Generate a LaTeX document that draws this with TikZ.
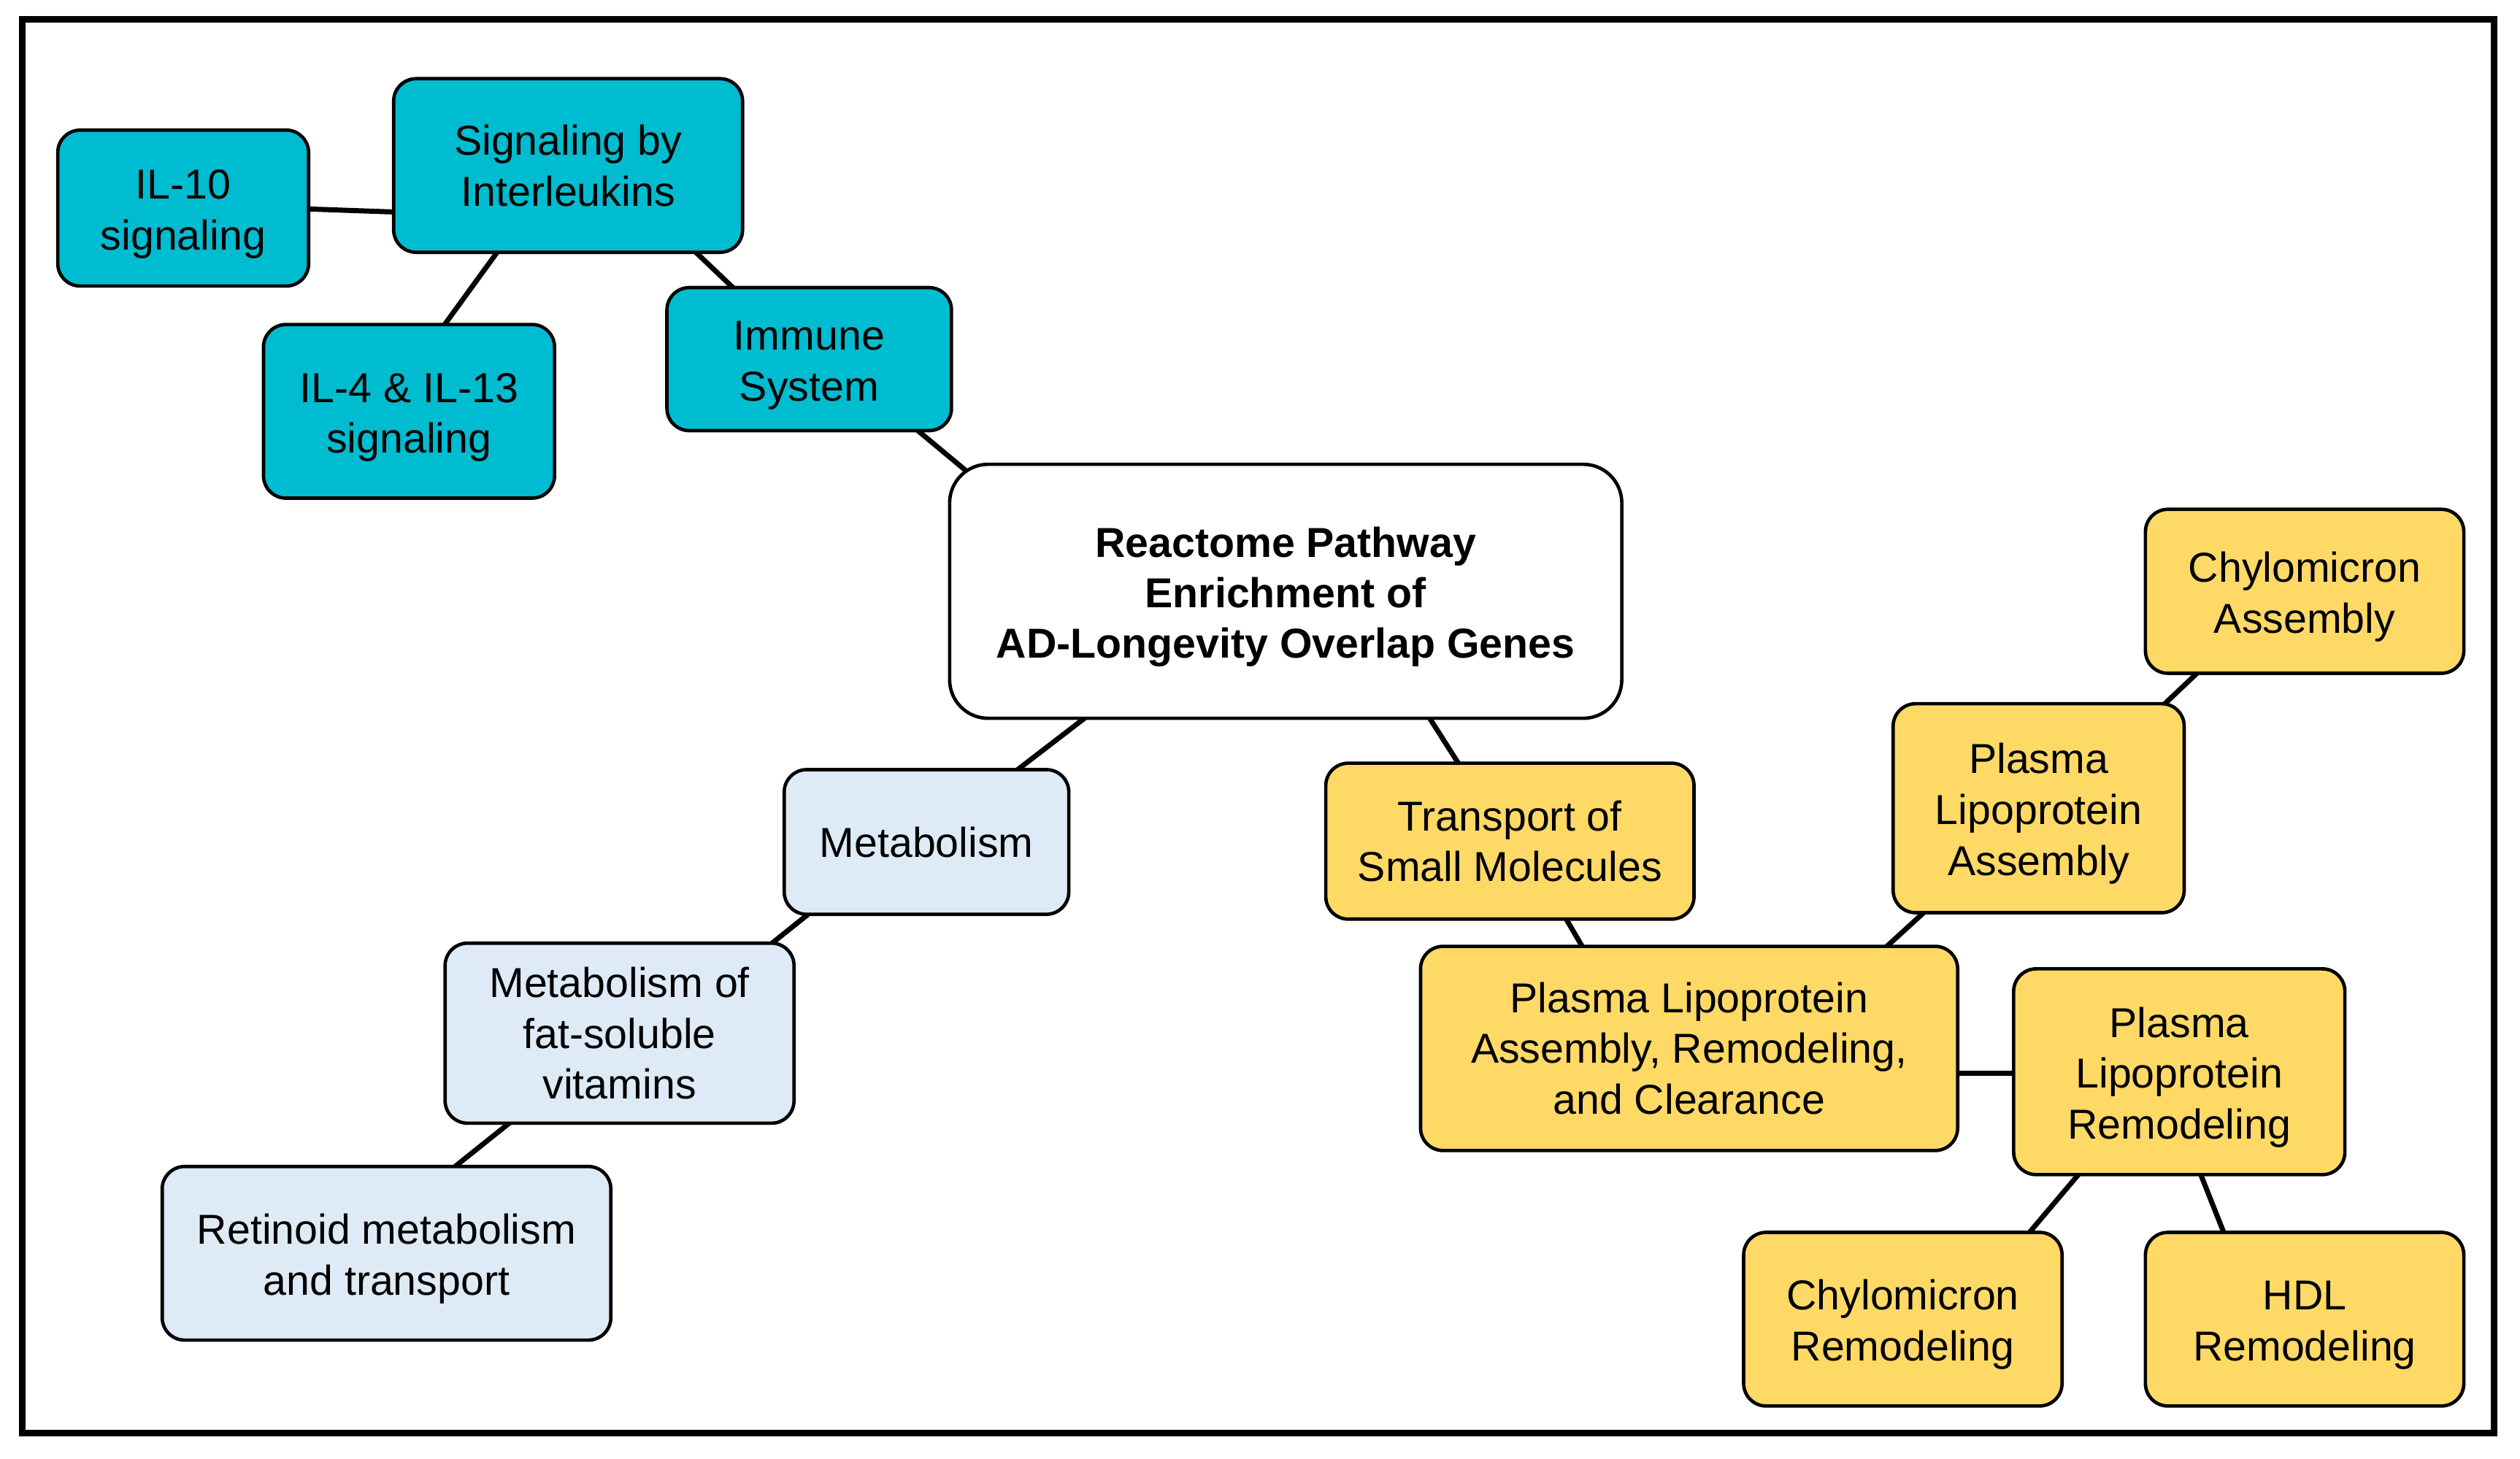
\documentclass[tikz,border=0pt]{standalone}
\usepackage{fontspec}
\setmainfont{Liberation Sans}
\usetikzlibrary{calc}
\definecolor{tealfill}{RGB}{0,188,208}
\definecolor{bluefill}{RGB}{222,234,246}
\definecolor{yellowfill}{RGB}{255,217,102}
\pgfdeclarelayer{bg}
\pgfsetlayers{bg,main}
\newcommand{\firststrut}{\rule{0pt}{7.3pt}}
\begin{document}
\begin{tikzpicture}[x=0.01cm,y=-0.01cm,
  box/.style={draw=black, line width=0.6pt, rounded corners=0.14cm, align=center,
    inner sep=0pt, text=black, font=\fontsize{7.4}{9.0}\selectfont},
  tealbox/.style={box, fill=tealfill},
  bluebox/.style={box, fill=bluefill},
  ybox/.style={box, fill=yellowfill},
  link/.style={line width=0.9pt, draw=black}]
\useasboundingbox (0,0) rectangle (1568,907.6);
\draw[line width=1.2pt] (14,12) rectangle (1552,892);

% teal
\node[tealbox, minimum width=1.56cm, minimum height=0.97cm] (il10) at (114,129.5) {\firststrut IL-10\\signaling};
\node[tealbox, minimum width=2.17cm, minimum height=1.08cm] (sig) at (353.5,103) {Signaling by\\Interleukins};
\node[tealbox, minimum width=1.81cm, minimum height=1.08cm] (il4) at (254.5,256) {\firststrut IL-4 \& IL-13\\signaling};
\node[tealbox, minimum width=1.77cm, minimum height=0.89cm] (imm) at (503.5,223.5) {\firststrut Immune\\System};

% centre
\node[box, fill=white, rounded corners=0.24cm, minimum width=4.18cm, minimum height=1.58cm,
  font=\fontsize{7.4}{8.95}\selectfont\bfseries] (cen) at (800,368)
  {\firststrut Reactome Pathway\\Enrichment of\\AD-Longevity Overlap Genes};

% light blue
\node[bluebox, minimum width=1.77cm, minimum height=0.90cm] (met) at (576.5,524) {Metabolism};
\node[bluebox, minimum width=2.17cm, minimum height=1.12cm] (fat) at (385.5,643) {Metabolism of\\fat-soluble\\vitamins};
\node[bluebox, minimum width=2.79cm, minimum height=1.08cm] (ret) at (240.5,780) {\firststrut Retinoid metabolism\\and transport};

% yellow
\node[ybox, minimum width=2.29cm, minimum height=0.97cm] (tsm) at (939.5,523.5) {Transport of\\Small Molecules};
\node[ybox, minimum width=3.34cm, minimum height=1.27cm] (plarc) at (1051,652.5) {Plasma Lipoprotein\\Assembly, Remodeling,\\and Clearance};
\node[ybox, minimum width=1.81cm, minimum height=1.30cm] (pla) at (1268.5,503) {\firststrut Plasma\\Lipoprotein\\Assembly};
\node[ybox, minimum width=1.98cm, minimum height=1.02cm] (ca) at (1434,368) {\firststrut Chylomicron\\Assembly};
\node[ybox, minimum width=2.06cm, minimum height=1.28cm] (plr) at (1356,667) {\firststrut Plasma\\Lipoprotein\\Remodeling};
\node[ybox, minimum width=1.98cm, minimum height=1.08cm] (cr) at (1184,821) {\firststrut Chylomicron\\Remodeling};
\node[ybox, minimum width=1.98cm, minimum height=1.08cm] (hdl) at (1434,821) {\firststrut HDL\\Remodeling};

\begin{pgfonlayer}{bg}
\draw[link] ($(il10.east)+(-3,0.5)$) -- ($(sig.west)+(3,29)$);
\draw[link] ($(sig.south)+(-43.5,-2)$) -- ($(il4.north)+(21.5,2)$);
\draw[link] ($(sig.south)+(78.5,-2)$) -- ($(imm.north)+(-46.5,2)$);
\draw[link] ($(imm.south)+(66.5,-2)$) -- ($(cen.north west)+(16,9)$);
\draw[link] ($(cen.south)+(-124,-2)$) -- ($(met.north)+(55.5,2)$);
\draw[link] ($(met.south)+(-72.5,-2)$) -- ($(fat.north)+(92.5,3)$);
\draw[link] ($(fat.south)+(-67.5,-2)$) -- ($(ret.north)+(41.5,2)$);
\draw[link] ($(cen.south)+(89,-2)$) -- ($(tsm.north)+(-31.5,2)$);
\draw[link] ($(tsm.south)+(34.5,-2)$) -- ($(plarc.north)+(-66,2)$);
\draw[link] ($(plarc.north)+(122,2)$) -- ($(pla.south)+(-70.5,-2)$);
\draw[link] ($(pla.north)+(77.5,2)$) -- ($(ca.south)+(-66,-2)$);
\draw[link] ($(plarc.east)+(-3,15.5)$) -- ($(plr.west)+(3,1)$);
\draw[link] ($(plr.south)+(-62,-2)$) -- ($(cr.north)+(78,2)$);
\draw[link] ($(plr.south)+(13,-2)$) -- ($(hdl.north)+(-50,2)$);
\end{pgfonlayer}
\end{tikzpicture}
\end{document}
